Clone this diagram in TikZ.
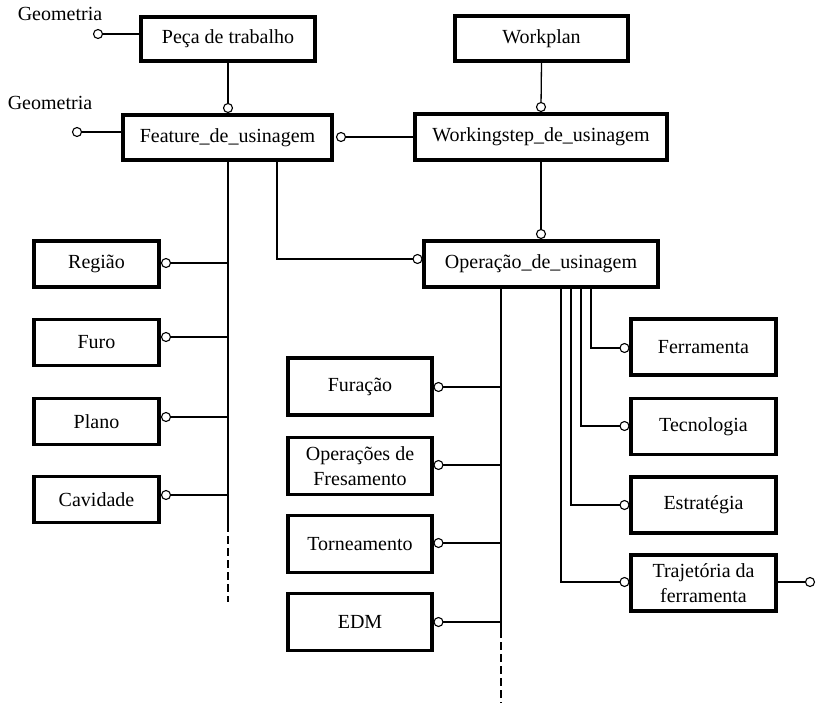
\documentclass[tikz,border=0pt]{standalone}
\usepackage{fontspec}
\setmainfont{Liberation Serif}
\begin{document}
\begin{tikzpicture}[x=1pt,y=-1pt,
  entity/.style={draw, line width=3.6pt, rectangle, inner sep=0pt, align=center,
    font=\fontsize{20}{25}\selectfont},
  ball/.style={circle, minimum size=9pt, inner sep=0pt},
  link/.style={line width=1.3pt},
  more/.style={line width=1.3pt, dash pattern=on 8pt off 4pt},
  lbl/.style={font=\fontsize{20}{24}\selectfont, inner sep=0pt}]
\useasboundingbox (0,0) rectangle (817,707);

% main entities
\node[entity, minimum width=174pt, minimum height=44pt] (peca) at (228,39) {Peça de trabalho};
\node[entity, minimum width=209pt, minimum height=45pt] (feat) at (227.5,137.5) {Feature\_de\_usinagem};
\node[entity, minimum width=173pt, minimum height=45pt] (plan) at (541.5,38.5) {Workplan};
\node[entity, minimum width=252pt, minimum height=46pt] (ws) at (541,137) {Workingstep\_de\_usinagem};
\node[entity, minimum width=234pt, minimum height=46pt] (op) at (541,264) {Operação\_de\_usinagem};

% feature subtypes
\tikzset{fbox/.style={entity, minimum width=125pt, minimum height=46pt}}
\node[fbox] (reg) at (96.5,264) {Região};
\node[fbox] (furo) at (96.5,342.5) {Furo};
\node[fbox] (plano) at (96.5,421.5) {Plano};
\node[fbox] (cav) at (96.5,499.5) {Cavidade};

% operation subtypes
\tikzset{obox/.style={entity, minimum width=144pt, minimum height=57pt}}
\node[obox] (fur) at (360,386.5) {Furação};
\node[obox] (fres) at (360,466) {Operações de\\Fresamento};
\node[obox] (torn) at (360,544) {Torneamento};
\node[obox] (edm) at (360,622) {EDM};

% operation attributes
\tikzset{abox/.style={entity, minimum width=145pt, minimum height=56pt}}
\node[abox] (ferr) at (703.5,347) {Ferramenta};
\node[abox] (tec) at (703.5,426.5) {Tecnologia};
\node[abox] (estr) at (703.5,505) {Estratégia};
\node[abox] (traj) at (703.5,583) {Trajetória da\\ferramenta};

% free labels
\node[lbl] (g1) at (60,14) {Geometria};
\node[lbl] (g2) at (50,103) {Geometria};

% connector end points
\coordinate (fA) at (228,162);
\coordinate (fB) at (228,524);
\coordinate (fC) at (228,602);
\coordinate (fD) at (277,162);
\coordinate (oA) at (501,289);
\coordinate (oB) at (501,630);
\coordinate (oC) at (501,703);
\coordinate (r1) at (591,289);
\coordinate (r2) at (581,289);
\coordinate (r3) at (571,289);
\coordinate (r4) at (561,289);

% places of the open circles at relationship ends
\node[ball] (cg1) at (98,34) {};
\node[ball] (cg2) at (77,132) {};
\node[ball] (cpf) at (228,108) {};
\node[ball] (cfw) at (341,137) {};
\node[ball] (cpw) at (541,107) {};
\node[ball] (cwo) at (541,234) {};
\node[ball] (cfo) at (417.5,259) {};
\node[ball] (creg) at (166,263) {};
\node[ball] (cfuro) at (166,337) {};
\node[ball] (cplano) at (166,417) {};
\node[ball] (ccav) at (166,495) {};
\node[ball] (cfur) at (438.5,387) {};
\node[ball] (cfres) at (438.5,465) {};
\node[ball] (ctorn) at (438.5,543) {};
\node[ball] (cedm) at (438.5,622) {};
\node[ball] (cferr) at (624.5,348) {};
\node[ball] (ctec) at (624.5,426) {};
\node[ball] (cestr) at (624.5,505) {};
\node[ball] (ctraj) at (624.5,582) {};
\node[ball] (ctraj2) at (810,582) {};

% connectors
\draw[link] (cg1.center) -- (cg1.center -| peca.west);
\draw[link] (cg2.center) -- (cg2.center -| feat.west);
\draw[link] (peca.south) -- (cpf.center);
\draw[link] (cfw.center) -- (cfw.center -| ws.west);
\draw[link] (plan.south) -- (cpw.center);
\draw[link] (ws.south) -- (cwo.center);
\draw[link] (fD) |- (cfo.center);
\draw[link] (fA) -- (fB);
\draw[more] (fB) -- (fC);
\foreach \c in {creg,cfuro,cplano,ccav} \draw[link] (\c.center) -- (\c.center -| fA);
\draw[link] (oA) -- (oB);
\draw[more] (oB) -- (oC);
\foreach \c in {cfur,cfres,ctorn,cedm} \draw[link] (\c.center) -- (\c.center -| oA);
\draw[link] (r1) |- (cferr.center);
\draw[link] (r2) |- (ctec.center);
\draw[link] (r3) |- (cestr.center);
\draw[link] (r4) |- (ctraj.center);
\draw[link] (traj.east |- ctraj2.center) -- (ctraj2.center);

% open circles drawn over the line ends
\foreach \c in {cg1,cg2,cpf,cfw,cpw,cwo,cfo,creg,cfuro,cplano,ccav,cfur,cfres,ctorn,cedm,cferr,ctec,cestr,ctraj,ctraj2}
  \draw[line width=1.1pt, fill=white] (\c.center) circle (4.5pt);
\end{tikzpicture}
\end{document}
